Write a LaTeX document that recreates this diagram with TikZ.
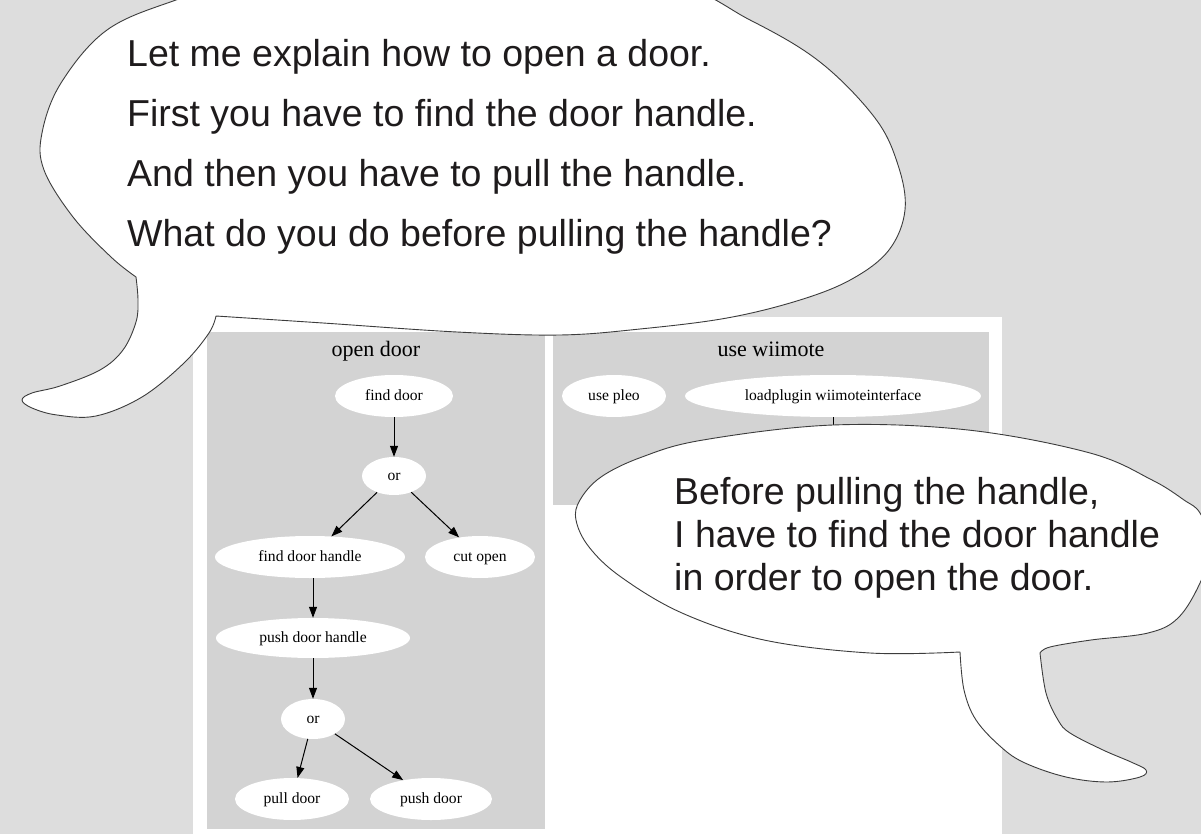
\documentclass[tikz,border=0pt]{standalone}
\usepackage{fontspec}
\setmainfont{Liberation Serif}
\newfontfamily\bubblefont{Liberation Sans}
\usetikzlibrary{shapes.geometric,arrows.meta}
\definecolor{bgc}{RGB}{221,221,221}
\definecolor{panelc}{RGB}{211,211,211}
\definecolor{inkc}{RGB}{30,27,28}
\definecolor{linec}{RGB}{60,60,60}
\begin{document}
\begin{tikzpicture}[x=1pt,y=-1pt,
 gnode/.style={ellipse, fill=white, inner sep=0pt, text height=12pt, text depth=3pt, font=\fontsize{15.6}{18}\selectfont},
 arr/.style={-{Triangle[length=11pt,width=8pt]}, line width=1pt, black},
 bubble/.style={fill=white, draw=linec, line width=0.9pt, line join=round},
 btext/.style={anchor=base west, inner sep=0pt, text=inkc, font=\bubblefont\fontsize{37.5}{45}\selectfont},
 gtitle/.style={anchor=base, inner sep=0pt, font=\fontsize{22}{26}\selectfont}]

\useasboundingbox (0,0) rectangle (1201,834);
\clip (0,0) rectangle (1201,834);
\fill[bgc] (0,0) rectangle (1201,834);
\fill[white] (193,317) rectangle (1002,834);
\fill[panelc] (207,332) rectangle (545,829);
\fill[panelc] (553,332) rectangle (989,505);

\node[gtitle] (t1) at (376,356) {open door};
\node[gtitle] (t2) at (771,356) {use wiimote};

\node[gnode, minimum width=118pt, minimum height=42pt] (fd) at (394,396) {find door};
\node[gnode, minimum width=64pt, minimum height=38pt] (or1) at (394,476) {or};
\node[gnode, minimum width=190pt, minimum height=42pt] (fdh) at (310,557) {find door handle};
\node[gnode, minimum width=110pt, minimum height=42pt] (cut) at (480,557) {cut open};
\node[gnode, minimum width=194pt, minimum height=40pt] (pdh) at (313,638) {push door handle};
\node[gnode, minimum width=64pt, minimum height=40pt] (or2) at (313,719) {or};
\node[gnode, minimum width=114pt, minimum height=42pt] (pull) at (292,799) {pull door};
\node[gnode, minimum width=122pt, minimum height=42pt] (push) at (431,799) {push door};
\node[gnode, minimum width=104pt, minimum height=42pt] (pleo) at (614,396) {use pleo};
\node[gnode, minimum width=296pt, minimum height=42pt] (load) at (833,396) {loadplugin wiimoteinterface};
\coordinate (hid) at (833,470);

\draw[arr] (fd) -- (or1);
\draw[arr] (or1) -- (fdh);
\draw[arr] (or1) -- (cut);
\draw[arr] (fdh.south -| pdh.north) -- (pdh);
\draw[arr] (pdh) -- (or2);
\draw[arr] (or2) -- (pull);
\draw[arr] (or2) -- (push);
\draw[arr] (load) -- (hid);

\draw[bubble] plot[smooth, tension=0.6] coordinates {(216,316) (323,323) (457,332) (560,335) (640,329) (727,318) (800,300) (852,279) (889,250) (905,210) (898,165) (875,118) (820,62) (750,20) (660,-20) (450,-45) (260,-25) (176,0) (107,30) (61,83) (42,133) (44,170) (73,217) (111,257) (136,277)}
 -- plot[smooth, tension=0.6] coordinates {(136,277) (138,300) (136,322) (123,350) (100,370) (60,386) (32,393) (22,400) (32,408) (57,415) (96,416) (142,397) (184,363) (209,333) (216,316)} -- cycle;

\draw[bubble] plot[smooth, tension=0.6] coordinates {(1040,653) (1050,647) (1091,640) (1148,633) (1178,618) (1200,583) (1212,545) (1200,513) (1184,500) (1152,480) (1090,453) (968,430) (833,425) (703,440) (642,457) (601,477) (580,500) (576,520) (589,547) (621,577) (682,613) (764,640) (870,653) (960,652)}
 -- plot[smooth, tension=0.6] coordinates {(960,652) (964,690) (976,720) (1001,747) (1025,763) (1066,777) (1107,782) (1140,777) (1146,770) (1131,762) (1103,750) (1070,733) (1058,720) (1046,693) (1040,653)} -- cycle;

\node[btext] (l1) at (127,67) {Let me explain how to open a door.};
\node[btext] (l2) at (127,127) {First you have to find the door handle.};
\node[btext] (l3) at (127,187) {And then you have to pull the handle.};
\node[btext] (l4) at (127,247) {What do you do before pulling the handle?};

\node[btext] (r1) at (674,504) {Before pulling the handle,};
\node[btext] (r2) at (674,547) {I have to find the door handle};
\node[btext] (r3) at (674,590) {in order to open the door.};
\end{tikzpicture}
\end{document}
